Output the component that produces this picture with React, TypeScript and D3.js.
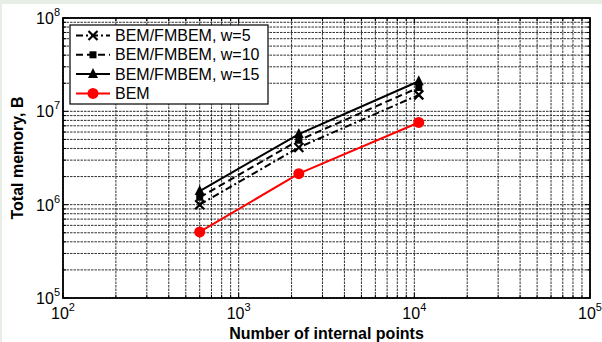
import React from "react";
import * as d3 from "d3";

// data
const points = [600, 2200, 10600];
const bemW5 = [1.0e6, 4.1e6, 1.5e7];
const bemW10 = [1.2e6, 4.9e6, 1.8e7];
const bemW15 = [1.4e6, 5.7e6, 2.1e7];
const bem = [5.1e5, 2.15e6, 7.6e6];

const xDecades = [2, 3, 4, 5];
const yDecades = [5, 6, 7, 8];

const legendLabels = ["BEM/FMBEM, w=5", "BEM/FMBEM, w=10", "BEM/FMBEM, w=15", "BEM"];

const W = 602, H = 342;
const margin = { top: 18, right: 12, bottom: 44, left: 63 };
const font = "'Liberation Sans', Arial, sans-serif";

const minorValues = (lo: number, hi: number) => {
  const out: number[] = [];
  for (let e = lo; e < hi; e++) {
    for (let m = 2; m <= 9; m++) out.push(m * Math.pow(10, e));
  }
  return out;
};

const Marker = ({ kind, x, y }: { kind: string; x: number; y: number }) => {
  if (kind === "x") {
    const s = 4.5;
    return (
      <path d={`M${x - s},${y - s}L${x + s},${y + s}M${x - s},${y + s}L${x + s},${y - s}`}
        stroke="#000" strokeWidth={2.2} fill="none" />
    );
  }
  if (kind === "square") {
    return <rect x={x - 3.5} y={y - 3.5} width={7} height={7} fill="#000" />;
  }
  if (kind === "triangle") {
    return <path d={`M${x},${y - 6}L${x + 5},${y + 4}L${x - 5},${y + 4}Z`} fill="#000" />;
  }
  return <circle cx={x} cy={y} r={5.5} fill="#ff0000" />;
};

export default function App() {
  const x = d3.scaleLog().domain([1e2, 1e5]).range([margin.left, W - margin.right]);
  const y = d3.scaleLog().domain([1e5, 1e8]).range([H - margin.bottom, margin.top]);

  const series = [
    { values: bemW5, dash: "7,3,2,3", marker: "x", color: "#000" },
    { values: bemW10, dash: "7,4", marker: "square", color: "#000" },
    { values: bemW15, dash: "", marker: "triangle", color: "#000" },
    { values: bem, dash: "", marker: "circle", color: "#ff0000" },
  ];

  const line = d3.line<[number, number]>().x(d => x(d[0])).y(d => y(d[1]));

  const xMajor = xDecades.map(e => Math.pow(10, e));
  const yMajor = yDecades.map(e => Math.pow(10, e));
  const xMinor = minorValues(2, 5);
  const yMinor = minorValues(5, 8);

  const x0 = x.range()[0], x1 = x.range()[1];
  const y0 = y.range()[0], y1 = y.range()[1];

  const gridStyle = { stroke: "#1a1a1a", strokeWidth: 0.9, strokeDasharray: "2.5,1" };

  // legend placement
  const lgX = 70, lgY = 25, lgW = 198, lgH = 79, rowH = 19.3;

  return (
    <svg width={W} height={H} style={{ position: "absolute", left: 0, top: 0 }} fontFamily={font}>
      <rect x={0} y={0} width={W} height={H} fill="#e6eee6" />
      <rect x={2} y={4} width={W - 2} height={H - 4} fill="#fff" />

      {/* grid */}
      <g>
        {[...xMinor, ...xMajor].map((v, i) => (
          <line key={"gx" + i} x1={x(v)} x2={x(v)} y1={y0} y2={y1} {...gridStyle} />
        ))}
        {[...yMinor, ...yMajor].map((v, i) => (
          <line key={"gy" + i} y1={y(v)} y2={y(v)} x1={x0} x2={x1} {...gridStyle} />
        ))}
      </g>

      {/* inside ticks */}
      <g stroke="#000" strokeWidth={1}>
        {xMinor.map((v, i) => (
          <g key={"tx" + i}>
            <line x1={x(v)} x2={x(v)} y1={y0} y2={y0 - 3} />
            <line x1={x(v)} x2={x(v)} y1={y1} y2={y1 + 3} />
          </g>
        ))}
        {xMajor.map((v, i) => (
          <g key={"tX" + i}>
            <line x1={x(v)} x2={x(v)} y1={y0} y2={y0 - 5} />
            <line x1={x(v)} x2={x(v)} y1={y1} y2={y1 + 5} />
          </g>
        ))}
        {yMinor.map((v, i) => (
          <g key={"ty" + i}>
            <line y1={y(v)} y2={y(v)} x1={x0} x2={x0 + 3} />
            <line y1={y(v)} y2={y(v)} x1={x1} x2={x1 - 3} />
          </g>
        ))}
        {yMajor.map((v, i) => (
          <g key={"tY" + i}>
            <line y1={y(v)} y2={y(v)} x1={x0} x2={x0 + 5} />
            <line y1={y(v)} y2={y(v)} x1={x1} x2={x1 - 5} />
          </g>
        ))}
      </g>

      {/* series */}
      {series.map((s, i) => (
        <g key={"s" + i}>
          <path
            d={line(points.map((p, j) => [p, s.values[j]] as [number, number])) || ""}
            fill="none" stroke={s.color} strokeWidth={2} strokeDasharray={s.dash || undefined}
          />
          {points.map((p, j) => (
            <Marker key={j} kind={s.marker} x={x(p)} y={y(s.values[j])} />
          ))}
        </g>
      ))}

      {/* axes box */}
      <rect x={x0} y={y1} width={x1 - x0} height={y0 - y1} fill="none" stroke="#000" strokeWidth={1.8} />

      {/* tick labels */}
      <g fontSize={16} fill="#000">
        {xMajor.map((v, i) => (
          <text key={"lx" + i} x={x(v)} y={y0 + 21} textAnchor="middle">
            10<tspan fontSize={11} dy={-8}>{xDecades[i]}</tspan>
          </text>
        ))}
        {yMajor.map((v, i) => (
          <text key={"ly" + i} x={x0 - 3} y={y(v) + 6} textAnchor="end">
            10<tspan fontSize={11} dy={-8}>{yDecades[i]}</tspan>
          </text>
        ))}
      </g>

      {/* axis titles */}
      <text x={(x0 + x1) / 2} y={339} textAnchor="middle" fontSize={16} fontWeight="bold">
        Number of internal points
      </text>
      <text transform={`translate(23,${(y0 + y1) / 2}) rotate(-90)`} textAnchor="middle" fontSize={16} fontWeight="bold">
        Total memory, B
      </text>

      {/* legend */}
      <g>
        <rect x={lgX} y={lgY} width={lgW} height={lgH} fill="#fff" stroke="#000" strokeWidth={1.2} />
        {series.map((s, i) => {
          const ry = lgY + 10.5 + i * rowH;
          return (
            <g key={"lg" + i}>
              <line x1={lgX + 6} x2={lgX + 40} y1={ry} y2={ry} stroke={s.color} strokeWidth={2}
                strokeDasharray={s.dash || undefined} />
              <Marker kind={s.marker} x={lgX + 23} y={ry} />
              <text x={lgX + 45} y={ry + 5.5} fontSize={16}>{legendLabels[i]}</text>
            </g>
          );
        })}
      </g>
    </svg>
  );
}
